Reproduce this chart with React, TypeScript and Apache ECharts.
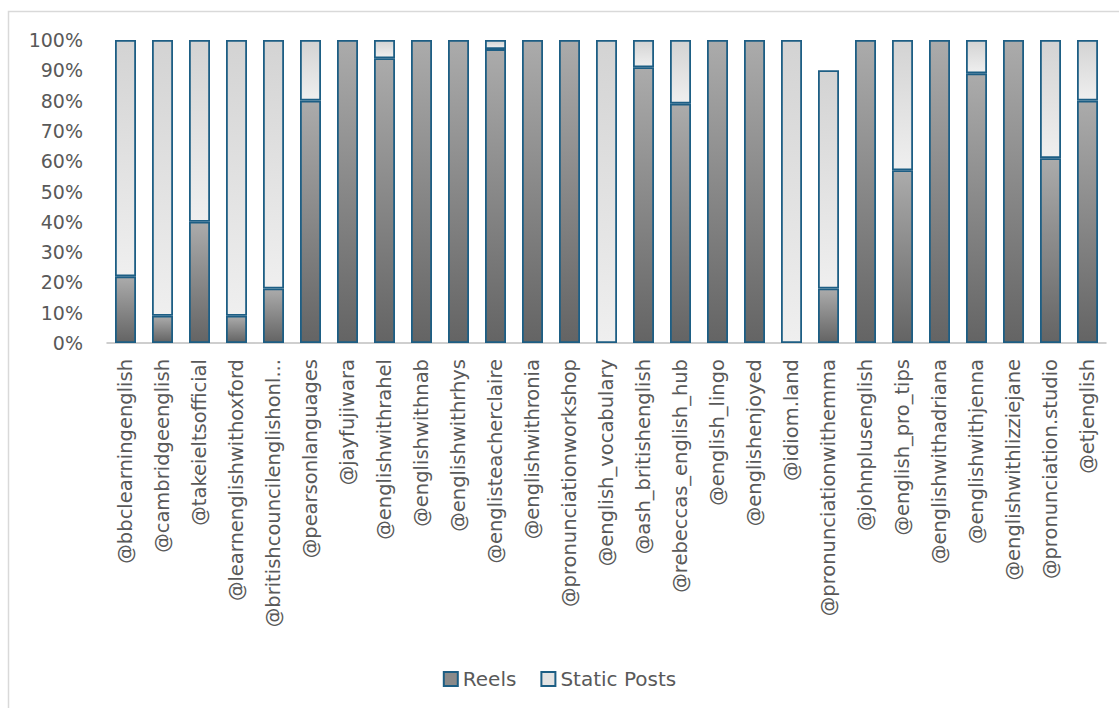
import React, { useEffect, useRef } from "react";
import * as echarts from "echarts";

const categories = [
  "@bbclearningenglish",
  "@cambridgeenglish",
  "@takeieltsofficial",
  "@learnenglishwithoxford",
  "@britishcouncilenglishonl...",
  "@pearsonlanguages",
  "@jayfujiwara",
  "@englishwithrahel",
  "@englishwithnab",
  "@englishwithrhys",
  "@englisteacherclaire",
  "@englishwithronia",
  "@pronunciationworkshop",
  "@english_vocabulary",
  "@ash_britishenglish",
  "@rebeccas_english_hub",
  "@english_lingo",
  "@englishenjoyed",
  "@idiom.land",
  "@pronunciationwithemma",
  "@johnplusenglish",
  "@english_pro_tips",
  "@englishwithadriana",
  "@englishwithjenna",
  "@englishwithlizziejane",
  "@pronunciation.studio",
  "@etjenglish",
];

const reels = [22, 9, 40, 9, 18, 80, 100, 94, 100, 100, 97, 100, 100, 0, 91, 79, 100, 100, 0, 18, 100, 57, 100, 89, 100, 61, 80];
const staticPosts = [78, 91, 60, 91, 82, 20, 0, 6, 0, 0, 3, 0, 0, 100, 9, 21, 0, 0, 100, 72, 0, 43, 0, 11, 0, 39, 20];

const yTicks = [0, 10, 20, 30, 40, 50, 60, 70, 80, 90, 100];

const FONT = "'DejaVu Sans', sans-serif";
const TEXT = "#595959";
const BORDER = "#1d5e84";

export default function App() {
  const ref = useRef<HTMLDivElement>(null);
  useEffect(() => {
    if (!ref.current) return;
    const chart = echarts.init(ref.current, undefined, { renderer: "svg" });
    const reelsGrad = new echarts.graphic.LinearGradient(0, 0, 0, 1, [
      { offset: 0, color: "#ababab" },
      { offset: 1, color: "#646464" },
    ]);
    const staticGrad = new echarts.graphic.LinearGradient(0, 0, 0, 1, [
      { offset: 0, color: "#d3d3d3" },
      { offset: 1, color: "#efefef" },
    ]);
    const nz = (arr: number[]) => arr.map((v) => (v === 0 ? null : v));
    chart.setOption({
      animation: false,
      backgroundColor: "#ffffff",
      textStyle: { fontFamily: FONT },
      graphic: [
        {
          type: "rect",
          shape: { x: 8.5, y: 11.5, width: 1200, height: 800 },
          style: { fill: "none", stroke: "#d9d9d9", lineWidth: 1.5 },
          silent: true,
        },
      ],
      legend: {
        data: [
          { name: "Reels", itemStyle: { color: "#8a8a8a", borderColor: BORDER, borderWidth: 2 } },
          { name: "Static Posts", itemStyle: { color: "#e3e3e3", borderColor: BORDER, borderWidth: 2 } },
        ],
        left: "center",
        top: 664,
        icon: "rect",
        itemWidth: 14,
        itemHeight: 14,
        itemGap: 24,
        textStyle: { color: TEXT, fontSize: 20, fontFamily: FONT },
      },
      grid: { left: 107, right: 13, top: 40, bottom: 365, containLabel: false },
      xAxis: {
        type: "category",
        data: categories,
        axisLine: { lineStyle: { color: "#bfbfbf", width: 1.5 } },
        axisTick: { show: false },
        axisLabel: {
          rotate: 90,
          interval: 0,
          margin: 16,
          color: TEXT,
          fontSize: 19.5,
          fontFamily: FONT,
        },
      },
      yAxis: {
        type: "value",
        min: 0,
        max: 100,
        interval: 10,
        axisLine: { show: false },
        axisTick: { show: false },
        splitLine: { show: false },
        axisLabel: {
          color: TEXT,
          fontSize: 19,
          fontFamily: FONT,
          margin: 24,
          formatter: (v: number) => (yTicks.includes(v) ? `${v}%` : ""),
        },
      },
      series: [
        {
          name: "Reels",
          type: "bar",
          stack: "total",
          barWidth: 21,
          data: nz(reels),
          itemStyle: { color: reelsGrad, borderColor: BORDER, borderWidth: 1.8 },
        },
        {
          name: "Static Posts",
          type: "bar",
          stack: "total",
          barWidth: 21,
          data: nz(staticPosts),
          itemStyle: { color: staticGrad, borderColor: BORDER, borderWidth: 1.8 },
        },
      ],
    });
    return () => chart.dispose();
  }, []);
  return (
    <div
      ref={ref}
      style={{ position: "fixed", left: 0, top: 0, width: 1119, height: 708, background: "#fff" }}
    />
  );
}
